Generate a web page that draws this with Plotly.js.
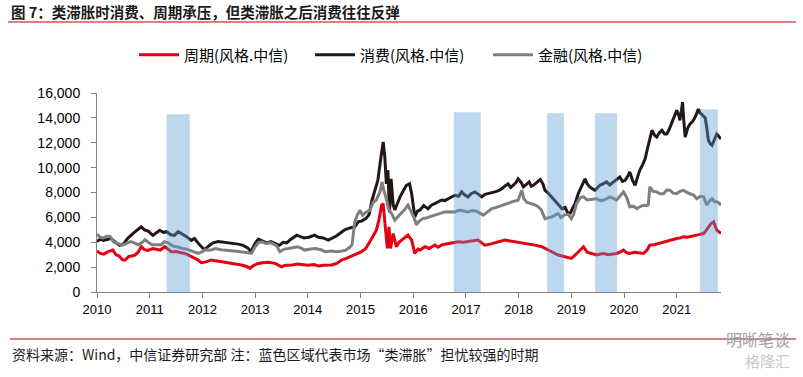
<!DOCTYPE html>
<html>
<head>
<meta charset="utf-8">
<script src="https://cdn.plot.ly/plotly-3.0.1.min.js"></script>
<style>html,body{margin:0;padding:0;background:#fff;}#chart{width:803px;height:377px;}</style>
</head>
<body>
<div id="chart"></div>
<script>
// ---- data (decimal years, index level) ----
const seriesNames = ["周期(风格.中信)", "消费(风格.中信)", "金融(风格.中信)"];

const cycX = [2010.00,2010.06,2010.13,2010.21,2010.30,2010.36,2010.42,2010.48,2010.53,2010.60,2010.66,2010.72,2010.78,2010.84,2010.90,2010.96,2011.06,2011.14,2011.20,2011.29,2011.35,2011.41,2011.50,2011.58,2011.66,2011.72,2011.79,2011.86,2011.92,2011.98,2012.05,2012.17,2012.27,2012.36,2012.45,2012.55,2012.65,2012.74,2012.84,2012.90,2012.96,2013.06,2013.15,2013.25,2013.38,2013.50,2013.58,2013.70,2013.80,2013.90,2014.00,2014.12,2014.20,2014.30,2014.45,2014.55,2014.64,2014.73,2014.83,2014.92,2015.02,2015.10,2015.18,2015.24,2015.30,2015.35,2015.40,2015.43,2015.47,2015.51,2015.54,2015.57,2015.62,2015.68,2015.73,2015.78,2015.84,2015.90,2015.97,2016.03,2016.09,2016.13,2016.22,2016.30,2016.41,2016.47,2016.55,2016.66,2016.75,2016.85,2016.95,2017.04,2017.14,2017.23,2017.30,2017.36,2017.46,2017.55,2017.65,2017.74,2017.84,2017.93,2018.03,2018.12,2018.22,2018.31,2018.44,2018.56,2018.66,2018.75,2018.82,2018.88,2018.95,2019.00,2019.08,2019.13,2019.18,2019.23,2019.30,2019.38,2019.48,2019.55,2019.61,2019.70,2019.78,2019.86,2019.94,2019.99,2020.05,2020.11,2020.20,2020.28,2020.37,2020.44,2020.49,2020.57,2020.65,2020.75,2020.81,2020.87,2020.94,2021.00,2021.07,2021.13,2021.20,2021.27,2021.38,2021.45,2021.51,2021.56,2021.60,2021.65,2021.70,2021.73,2021.76,2021.80,2021.84];
const cycY = [3300,3100,3050,3240,3370,3000,2900,2600,2570,2850,2900,2970,3200,3640,3400,3350,3500,3400,3370,3640,3400,3240,3250,3200,3100,3000,2830,2700,2570,2350,2400,2570,2500,2450,2400,2300,2250,2170,2050,1900,2100,2300,2350,2400,2300,2030,2150,2170,2250,2170,2150,2200,2100,2150,2170,2300,2570,2700,2900,3050,3240,3500,4040,4500,4970,5800,6980,7100,5240,3500,5240,3500,4700,3640,4000,4170,4400,4570,4170,3100,3450,3370,3640,3500,3770,3600,3800,3900,3950,4040,4000,4040,4100,4170,3950,3770,3850,3950,4050,4170,4100,4040,4000,3900,3850,3770,3640,3370,3200,2970,2900,2830,2750,2700,3000,3240,3450,3640,3200,3100,2970,3050,3100,3000,3050,3100,3250,3370,3150,3100,3200,3150,3100,3400,3770,3800,3900,4040,4100,4170,4250,4300,4350,4440,4400,4450,4570,4650,4700,4950,5240,5500,5640,5200,4970,4850,4700];

const conX = [2010.00,2010.06,2010.12,2010.20,2010.27,2010.35,2010.43,2010.50,2010.58,2010.68,2010.76,2010.84,2010.90,2010.97,2011.06,2011.12,2011.19,2011.26,2011.32,2011.40,2011.47,2011.54,2011.60,2011.70,2011.79,2011.85,2011.95,2012.04,2012.12,2012.20,2012.30,2012.39,2012.48,2012.58,2012.68,2012.77,2012.86,2012.92,2013.00,2013.06,2013.14,2013.22,2013.30,2013.40,2013.46,2013.53,2013.60,2013.68,2013.79,2013.86,2013.93,2014.02,2014.13,2014.20,2014.29,2014.39,2014.46,2014.54,2014.62,2014.70,2014.80,2014.89,2014.96,2015.02,2015.10,2015.16,2015.22,2015.27,2015.33,2015.38,2015.43,2015.46,2015.49,2015.52,2015.55,2015.58,2015.62,2015.65,2015.70,2015.75,2015.82,2015.87,2015.93,2015.97,2016.03,2016.08,2016.13,2016.20,2016.28,2016.35,2016.41,2016.48,2016.54,2016.60,2016.66,2016.73,2016.79,2016.86,2016.92,2016.98,2017.04,2017.10,2017.17,2017.24,2017.30,2017.36,2017.42,2017.50,2017.55,2017.62,2017.68,2017.75,2017.80,2017.85,2017.90,2017.95,2017.99,2018.05,2018.09,2018.15,2018.20,2018.24,2018.28,2018.34,2018.41,2018.46,2018.50,2018.55,2018.60,2018.66,2018.72,2018.77,2018.82,2018.88,2018.94,2018.98,2019.04,2019.07,2019.13,2019.20,2019.26,2019.30,2019.35,2019.40,2019.45,2019.50,2019.54,2019.60,2019.67,2019.73,2019.80,2019.86,2019.92,2019.97,2020.02,2020.07,2020.11,2020.16,2020.21,2020.26,2020.30,2020.35,2020.40,2020.46,2020.50,2020.53,2020.58,2020.62,2020.67,2020.72,2020.77,2020.81,2020.86,2020.90,2020.95,2021.00,2021.04,2021.06,2021.09,2021.11,2021.13,2021.16,2021.21,2021.25,2021.30,2021.35,2021.41,2021.44,2021.47,2021.51,2021.54,2021.57,2021.60,2021.64,2021.67,2021.71,2021.76,2021.80,2021.84];
const conY = [4050,4250,4150,4200,4300,4000,3750,3850,4300,4700,4950,5240,5000,4900,4550,4750,4970,4800,4850,4600,4550,4850,4700,4450,4150,4300,3770,3400,3700,3950,4050,4000,3950,3950,3850,3750,3550,3250,3900,4250,4100,3950,4050,3900,3750,4000,3950,4250,4570,4450,4350,4400,4570,4400,4350,4170,4300,4500,4750,5000,5150,5240,5650,5700,5900,6200,7400,8200,9000,10600,12060,10900,8700,9800,6400,9100,7000,6600,7200,7650,8200,8580,8700,7900,6050,6500,6600,6950,6700,7000,7100,7250,7400,7350,7500,7650,7780,7700,8050,7800,7650,7900,8050,7850,7650,7850,7900,7950,8050,8150,8300,8550,8700,8400,8600,8800,9100,8800,8450,8700,8850,8500,8580,8800,9040,8700,8180,8000,7780,7500,7250,6950,6700,6800,6300,6350,6850,7100,7900,8500,9100,8700,8450,8300,8180,8400,8580,8700,8850,8600,8850,9000,9250,8900,8980,9300,9650,9000,8580,9300,9800,10200,10700,11800,12400,13000,12600,12460,12800,13000,12700,12700,13100,13500,14000,14600,14200,13800,14600,15270,14000,12460,13200,13500,13700,14060,14700,14400,14300,14100,14000,13200,12200,11900,11800,12200,12700,12500,12300];

const finX = [2010.00,2010.06,2010.12,2010.19,2010.25,2010.32,2010.40,2010.49,2010.56,2010.64,2010.71,2010.78,2010.86,2010.91,2010.97,2011.05,2011.15,2011.22,2011.28,2011.35,2011.42,2011.47,2011.55,2011.62,2011.70,2011.76,2011.84,2011.92,2012.00,2012.05,2012.14,2012.25,2012.35,2012.49,2012.60,2012.70,2012.80,2012.93,2013.00,2013.06,2013.13,2013.20,2013.30,2013.40,2013.47,2013.55,2013.63,2013.72,2013.80,2013.88,2013.94,2014.05,2014.14,2014.25,2014.33,2014.45,2014.55,2014.65,2014.72,2014.80,2014.84,2014.89,2014.94,2014.99,2015.04,2015.10,2015.18,2015.24,2015.30,2015.37,2015.41,2015.44,2015.48,2015.53,2015.59,2015.65,2015.72,2015.78,2015.85,2015.90,2015.96,2016.02,2016.06,2016.10,2016.18,2016.25,2016.35,2016.42,2016.50,2016.60,2016.70,2016.79,2016.88,2016.96,2017.04,2017.12,2017.20,2017.28,2017.33,2017.40,2017.49,2017.58,2017.68,2017.78,2017.87,2017.95,2017.99,2018.06,2018.10,2018.16,2018.25,2018.31,2018.37,2018.43,2018.50,2018.56,2018.63,2018.70,2018.75,2018.80,2018.87,2018.94,2019.00,2019.04,2019.10,2019.17,2019.23,2019.30,2019.38,2019.48,2019.55,2019.62,2019.73,2019.80,2019.86,2019.92,2019.99,2020.05,2020.11,2020.18,2020.24,2020.30,2020.37,2020.43,2020.46,2020.49,2020.55,2020.62,2020.68,2020.75,2020.81,2020.87,2020.93,2021.00,2021.06,2021.13,2021.19,2021.25,2021.32,2021.38,2021.45,2021.51,2021.57,2021.62,2021.67,2021.72,2021.76,2021.80,2021.84];
const finY = [4650,4400,4350,4500,4450,4000,3900,3770,3900,4050,3950,3800,4000,4200,4000,3800,3800,3800,4050,3950,3750,3650,3600,3500,3450,3370,3250,3100,3250,3400,3350,3500,3400,3370,3300,3250,3200,3100,3640,3950,4040,3900,3950,3750,3240,3450,3500,3600,3640,3500,3370,3450,3500,3400,3240,3300,3240,3300,3370,3600,3800,5640,6200,6580,6180,6400,6580,7200,7400,8050,8850,8200,7650,6700,6300,5780,6100,6300,6700,6980,6500,5950,5400,5640,5900,5950,6100,6200,6300,6440,6450,6440,6580,6500,6440,6550,6500,6300,6180,6400,6700,6800,6980,7100,7250,7300,7380,8180,7500,7200,7100,7000,6850,6600,5900,5950,6040,6200,6300,6000,6200,6250,5900,6200,7100,7600,7650,7400,7450,7500,7350,7400,7650,7550,7400,7700,8050,7600,6850,6900,6700,6850,6980,6950,7000,8450,8100,8050,7900,7900,8200,8180,7950,7900,8100,8180,8000,7900,7800,7500,7700,7650,6980,7300,7500,7250,7250,7150,6980];

// shaded "stagflation-like" periods
const bandStart = [2011.32, 2016.77, 2018.54, 2019.45, 2021.44];
const bandEnd   = [2011.76, 2017.28, 2018.86, 2019.87, 2021.78];
const bandTop   = [14290, 14450, 14370, 14370, 14690];

const yearTicks = [2010,2011,2012,2013,2014,2015,2016,2017,2018,2019,2020,2021];
const yTicks = [0,2000,4000,6000,8000,10000,12000,14000,16000];

// ---- geometry helpers (pixel -> paper) ----
const L = 97, R = 721, T = 93, B = 292;
const px = v => (v - L) / (R - L);
const py = v => (B - v) / (B - T);

const colors = ["#E60012", "#231815", "#7F7F7F"];
const xs = [cycX, conX, finX], ys = [cycY, conY, finY];
const legendIds = ["legend", "legend2", "legend3"];

const traces = seriesNames.map((n, i) => ({
  type: "scatter", mode: "lines", name: n, x: xs[i], y: ys[i],
  line: {color: colors[i], width: 3}, legend: legendIds[i],
  hoverinfo: "skip"
}));

const shapes = bandStart.map((s, i) => ({
  type: "rect", xref: "x", yref: "y", x0: s, x1: bandEnd[i], y0: 0, y1: bandTop[i],
  fillcolor: "rgba(91,155,213,0.4)", line: {width: 0}, layer: "above"
}));
shapes.push({type: "line", xref: "paper", yref: "paper", x0: px(8), x1: px(796), y0: py(22), y1: py(22), line: {color: "#C00000", width: 1.2}});
shapes.push({type: "line", xref: "paper", yref: "paper", x0: px(10), x1: px(796), y0: py(339), y1: py(339), line: {color: "#C00000", width: 1.2}});

const cjk = '"Noto Sans CJK SC", "Liberation Sans", sans-serif';
const legFont = {family: cjk, size: 15, color: "#000"};
const legendBase = {orientation: "h", yanchor: "middle", y: py(55), xanchor: "left", font: legFont, bgcolor: "rgba(0,0,0,0)", itemwidth: 40};
const legendXs = [134, 310, 488];

const layout = {
  width: 803, height: 377,
  margin: {l: L, r: 803 - R, t: T, b: 377 - B, pad: 0},
  paper_bgcolor: "#fff", plot_bgcolor: "#fff",
  showlegend: true,
  legend: Object.assign({}, legendBase, {x: px(legendXs[0])}),
  legend2: Object.assign({}, legendBase, {x: px(legendXs[1])}),
  legend3: Object.assign({}, legendBase, {x: px(legendXs[2])}),
  xaxis: {
    range: [2010, 2021.84], tickvals: yearTicks, ticktext: yearTicks.map(String),
    showgrid: false, zeroline: false, showline: true, linecolor: "#808080", linewidth: 1,
    ticks: "outside", ticklen: 5, tickcolor: "#808080",
    tickfont: {family: '"Liberation Sans", Arial, sans-serif', size: 13, color: "#000"}, fixedrange: true
  },
  yaxis: {
    range: [0, 16000], tickvals: yTicks, ticktext: yTicks.map(v => v.toLocaleString("en-US")),
    showgrid: false, zeroline: false, showline: true, linecolor: "#808080", linewidth: 1,
    ticks: "outside", ticklen: 5, tickcolor: "#808080", ticklabelstandoff: 8,
    tickfont: {family: '"Liberation Sans", Arial, sans-serif', size: 14, color: "#000"}, fixedrange: true
  },
  shapes: shapes,
  annotations: [
    {xref: "paper", yref: "paper", x: px(9), y: py(11), xanchor: "left", yanchor: "middle", showarrow: false,
     text: "<b>图 7：类滞胀时消费、周期承压，但类滞胀之后消费往往反弹</b>", font: {family: cjk, size: 14.5, color: "#1a1a1a"}},
    {xref: "paper", yref: "paper", x: px(10), y: py(354), xanchor: "left", yanchor: "middle", showarrow: false,
     text: "资料来源：Wind，中信证券研究部 注：蓝色区域代表市场“类滞胀”担忧较强的时期", font: {family: cjk, size: 14, color: "#1a1a1a"}},
    {xref: "paper", yref: "paper", x: px(792), y: py(339), xanchor: "right", yanchor: "middle", showarrow: false,
     text: "明晰笔谈", font: {family: cjk, size: 16, color: "#a0a0a0"}},
    {xref: "paper", yref: "paper", x: px(792), y: py(360), xanchor: "right", yanchor: "middle", showarrow: false,
     text: "格隆汇", font: {family: cjk, size: 15, color: "#c8c8c8"}}
  ]
};

Plotly.newPlot("chart", traces, layout, {displayModeBar: false, staticPlot: true});
</script>
</body>
</html>
